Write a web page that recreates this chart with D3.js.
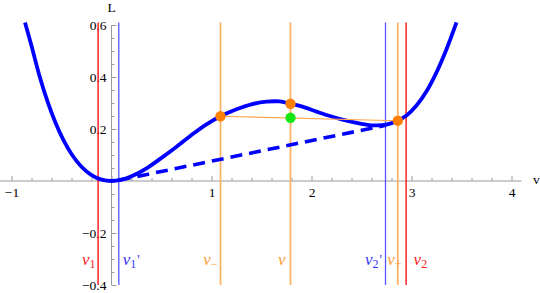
<!DOCTYPE html>
<html>
<head>
<meta charset="utf-8">
<script src="https://cdn.jsdelivr.net/npm/d3@7"></script>
<style>
  html, body { margin: 0; padding: 0; background: #fff; }
  svg { display: block; }
  svg text { font-family: "Liberation Serif", "Times New Roman", serif; }
</style>
</head>
<body>
<svg id="chart" width="540" height="293"></svg>
<script>
// ---- data ----
const curveV = [-0.865, -0.8, -0.72, -0.64, -0.56, -0.48, -0.4, -0.3, -0.2, -0.1, 0, 0.1, 0.2, 0.35, 0.5, 0.65, 0.8, 0.95, 1.09, 1.25, 1.4, 1.55, 1.68, 1.79, 1.9, 2.05, 2.2, 2.35, 2.5, 2.62, 2.75, 2.86, 2.95, 3.05, 3.15, 3.25, 3.35, 3.45];
const curveL = [0.61, 0.52, 0.404, 0.306, 0.224, 0.157, 0.104, 0.055, 0.023, 0.0055, 0, 0.005, 0.018, 0.049, 0.089, 0.132, 0.177, 0.218, 0.249, 0.276, 0.295, 0.305, 0.306, 0.297, 0.287, 0.267, 0.248, 0.232, 0.22, 0.214, 0.217, 0.232, 0.252, 0.29, 0.345, 0.418, 0.507, 0.61];

const tangentV = [0.073, 2.74];
const tangentL = [0.003, 0.214];

const chordV = [1.09, 2.863];
const chordL = [0.249, 0.232];

const orangePtV = [1.09, 1.79, 2.863];
const orangePtL = [0.249, 0.297, 0.232];
const greenPtV = [1.79];
const greenPtL = [0.243];

const markerV = [-0.134, 0.073, 1.09, 1.79, 2.74, 2.863, 2.946];
const markerKind = ["red", "blue", "orange", "orange", "blue", "orange", "red"];
const markerSub = ["1", "1", "\u2212", "", "2", "+", "2"];
const markerPrime = ["", "'", "", "", "'", "", ""];

const xMajorTicks = [-1, 0, 1, 2, 3, 4];
const xTickLabels = ["\u22121", "", "1", "2", "3", "4"];
const yMajorTicks = [-0.4, -0.2, 0, 0.2, 0.4, 0.6];
const yTickLabels = ["\u22120.4", "\u22120.2", "", "0.2", "0.4", "0.6"];

// ---- layout ----
const svg = d3.select("#chart");
const x = d3.scaleLinear().domain([-1, 4]).range([11.5, 511.5]);
const y = d3.scaleLinear().domain([-0.4, 0.6]).range([285, 25]);

const axisColor = "#9a9a9a";
const colors = { red: "#ff0000", blue: "#5555ff", orange: "#ffb060" };
const labelColors = { red: "#ff1a1a", blue: "#3333ff", orange: "#ff9a33" };

function styleTickText(g) {
  g.selectAll("text")
    .style("font-family", "'Liberation Serif', serif")
    .style("font-size", "13.5px")
    .style("fill", "#000");
}

// X axis
const xMinor = d3.range(-1, 4.11, 0.2).map(d => +d.toFixed(2)).filter(d => !xMajorTicks.includes(d));
const gx = svg.append("g").attr("transform", `translate(0,${y(0)})`);
gx.append("line").attr("x1", 0).attr("x2", x(4.1)).attr("y1", 0).attr("y2", 0)
  .attr("stroke", axisColor).attr("stroke-width", 1);
gx.append("g").call(d3.axisBottom(x).tickValues(xMinor).tickSizeInner(-3).tickSizeOuter(0).tickFormat(""))
  .call(g => g.select(".domain").remove())
  .call(g => g.selectAll("line").attr("stroke", axisColor));
gx.append("g").call(d3.axisBottom(x).tickValues(xMajorTicks).tickSizeInner(-5).tickSizeOuter(0).tickPadding(6.5)
    .tickFormat((d, i) => xTickLabels[i]))
  .call(g => g.select(".domain").remove())
  .call(g => g.selectAll("line").attr("stroke", axisColor))
  .call(styleTickText);

// Y axis
const yMinor = d3.range(-0.4, 0.601, 0.05).map(d => +d.toFixed(2)).filter(d => !yMajorTicks.some(t => Math.abs(t - d) < 1e-6));
const gy = svg.append("g").attr("transform", `translate(${x(0)},0)`);
gy.append("line").attr("x1", 0).attr("x2", 0).attr("y1", y(-0.4)).attr("y2", y(0.6))
  .attr("stroke", axisColor).attr("stroke-width", 1);
gy.append("g").call(d3.axisLeft(y).tickValues(yMinor).tickSizeInner(-3).tickSizeOuter(0).tickFormat(""))
  .call(g => g.select(".domain").remove())
  .call(g => g.selectAll("line").attr("stroke", axisColor));
gy.append("g").call(d3.axisLeft(y).tickValues(yMajorTicks).tickSizeInner(-5).tickSizeOuter(0).tickPadding(5)
    .tickFormat((d, i) => yTickLabels[i]))
  .call(g => g.select(".domain").remove())
  .call(g => g.selectAll("line").attr("stroke", axisColor))
  .call(styleTickText);

// axis titles
svg.append("text").attr("x", x(0)).attr("y", 12).attr("text-anchor", "middle")
  .style("font-size", "13.5px").style("fill", "#000").text("L");
svg.append("text").attr("x", 533).attr("y", 184).attr("text-anchor", "start")
  .style("font-size", "13.5px").style("fill", "#000").text("v");

// vertical marker lines
const markers = markerV.map((v, i) => ({ v, kind: markerKind[i], sub: markerSub[i], prime: markerPrime[i] }));
svg.append("g").selectAll("line").data(markers).join("line")
  .attr("x1", d => x(d.v)).attr("x2", d => x(d.v))
  .attr("y1", y(0.61)).attr("y2", y(-0.4))
  .attr("stroke", d => colors[d.kind])
  .attr("stroke-width", d => d.kind === "orange" ? 1.7 : 1.3);

// dashed common tangent
const line = d3.line().x(d => x(d[0])).y(d => y(d[1]));
svg.append("path").datum(tangentV.map((v, i) => [v, tangentL[i]]))
  .attr("d", line).attr("fill", "none").attr("stroke", "#0000ff")
  .attr("stroke-width", 3.6).attr("stroke-dasharray", "12,7");

// main curve
const curveLine = d3.line().x(d => x(d[0])).y(d => y(d[1])).curve(d3.curveCatmullRom.alpha(0.5));
svg.append("path").datum(curveV.map((v, i) => [v, curveL[i]]))
  .attr("d", curveLine).attr("fill", "none").attr("stroke", "#0000ff")
  .attr("stroke-width", 3.8).attr("stroke-linejoin", "round");

// chord between v- and v+
svg.append("path").datum(chordV.map((v, i) => [v, chordL[i]]))
  .attr("d", line).attr("fill", "none").attr("stroke", "#ffa850").attr("stroke-width", 1.1);

// points
svg.append("g").selectAll("circle").data(orangePtV.map((v, i) => [v, orangePtL[i]])).join("circle")
  .attr("cx", d => x(d[0])).attr("cy", d => y(d[1])).attr("r", 5.2).attr("fill", "#ff8000");
svg.append("g").selectAll("circle").data(greenPtV.map((v, i) => [v, greenPtL[i]])).join("circle")
  .attr("cx", d => x(d[0])).attr("cy", d => y(d[1])).attr("r", 5.2).attr("fill", "#14e614");

// labels under the markers
const labelPlace = [
  { dx: -2.5, anchor: "end" },
  { dx: 4, anchor: "start" },
  { dx: -3, anchor: "end" },
  { dx: -5, anchor: "end" },
  { dx: -3.5, anchor: "end" },
  { dx: -10.5, anchor: "start" },
  { dx: 7.5, anchor: "start" }
];
const lbl = svg.append("g").selectAll("text").data(markers).join("text")
  .attr("x", (d, i) => x(d.v) + labelPlace[i].dx)
  .attr("y", 265)
  .attr("text-anchor", (d, i) => labelPlace[i].anchor)
  .style("fill", d => labelColors[d.kind]);
lbl.append("tspan").style("font-size", "17px").style("font-style", "italic").text("v");
lbl.filter(d => d.sub !== "").append("tspan").style("font-size", "12px").attr("dy", 3.3).text(d => d.sub);
lbl.filter(d => d.prime !== "").append("tspan").style("font-size", "14px").attr("dy", -3.3).attr("dx", 1).text(d => d.prime);
</script>
</body>
</html>
